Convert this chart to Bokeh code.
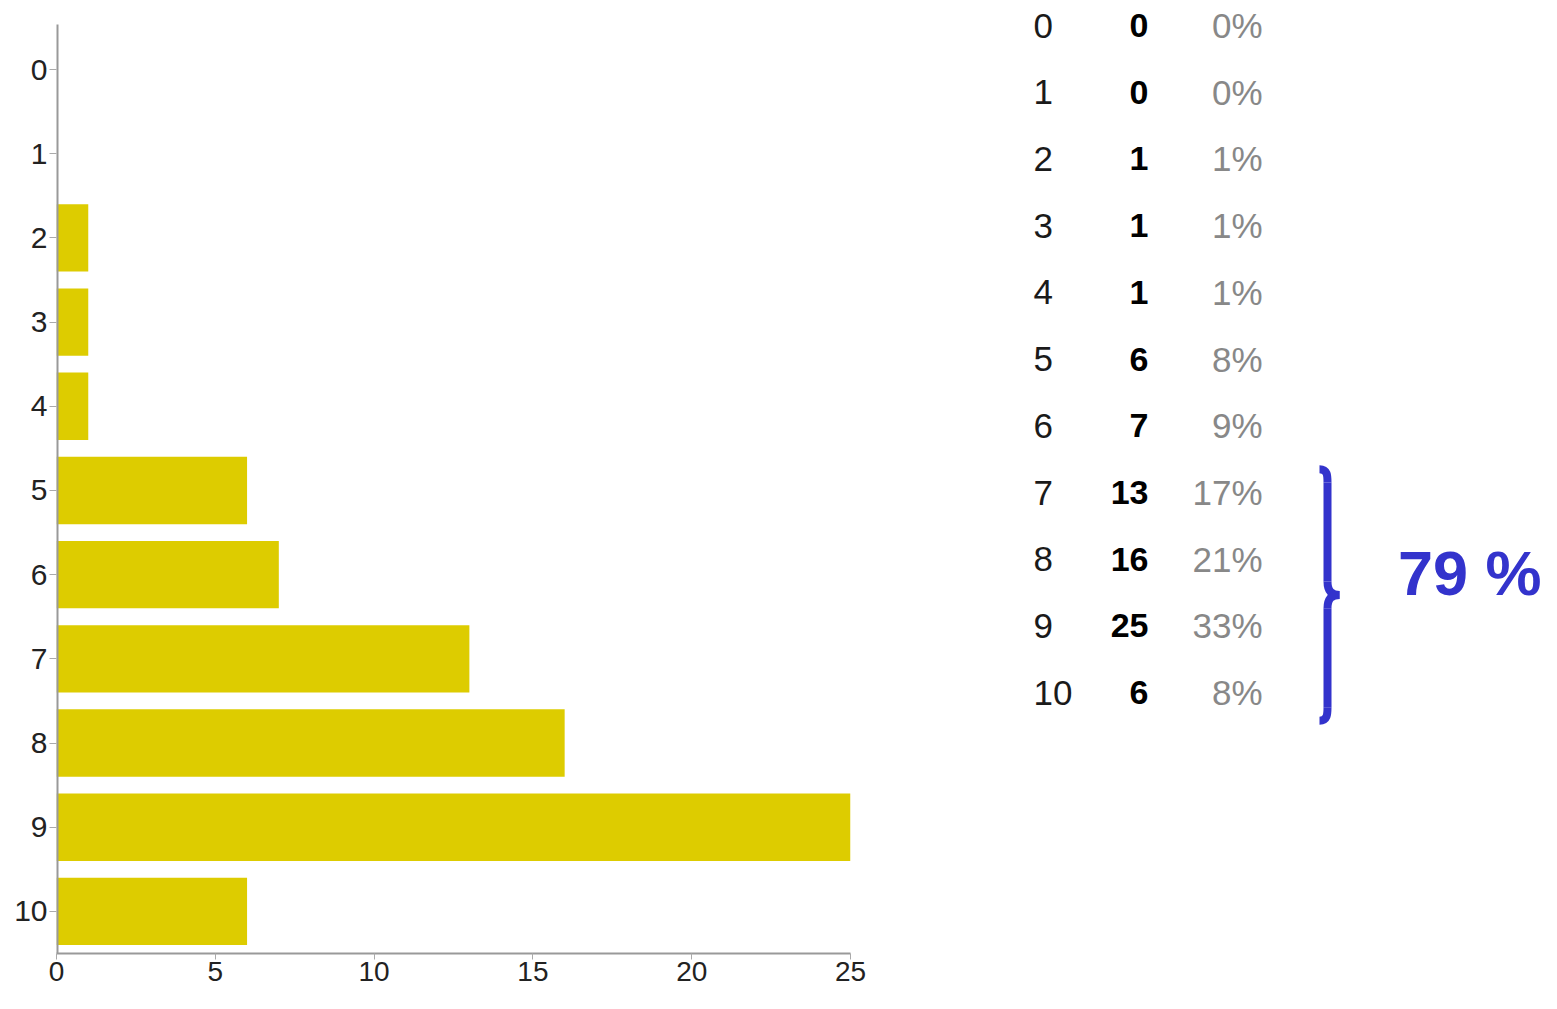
from bokeh.plotting import figure
from bokeh.models import Range1d, ColumnDataSource, FixedTicker
from bokeh.layouts import row
from bokeh.embed import file_html
from bokeh.resources import INLINE
from bokeh.core.properties import value

# ---- data ----
categories = ["0", "1", "2", "3", "4", "5", "6", "7", "8", "9", "10"]
counts = [0, 0, 1, 1, 1, 6, 7, 13, 16, 25, 6]
percents = ["0%", "0%", "1%", "1%", "1%", "8%", "9%", "17%", "21%", "33%", "8%"]
x_ticks = [0, 5, 10, 15, 20, 25]
highlight_rows = ["7", "8", "9", "10"]
highlight_label = "79 %"

BAR = "#DDCC00"
BLUE = "#3333CC"
FONT = "Liberation Sans"
rows_idx = list(range(len(categories)))

# ---- left: bar chart ----
left = figure(width=1008, height=993,
              x_range=Range1d(0, 25), y_range=Range1d(10.50, -0.82),
              output_backend="svg", toolbar_location=None,
              min_border_left=56, min_border_top=0, min_border_right=158,
              min_border_bottom=40)
left.hbar(y=rows_idx, right=counts, left=0, height=0.8,
          fill_color=BAR, line_color=None)
left.xgrid.visible = False
left.ygrid.visible = False
left.outline_line_color = None

for ax in (left.xaxis[0], left.yaxis[0]):
    ax.axis_line_color = "#999999"
    ax.axis_line_width = 2
    ax.major_tick_line_color = "#aaaaaa"
    ax.major_tick_in = 0
    ax.major_tick_out = 7
    ax.minor_tick_line_color = None
    ax.major_label_text_font = FONT
    ax.major_label_text_color = "#222222"
left.yaxis.axis_line_color = None
left.yaxis.ticker = FixedTicker(ticks=rows_idx)
left.yaxis.major_label_overrides = {i: c for i, c in zip(rows_idx, categories)}
left.yaxis.major_label_text_font_size = "30px"
left.xaxis.major_label_text_font_size = "28px"
left.yaxis.major_label_standoff = 2
left.xaxis.major_label_standoff = 2
left.xaxis.major_tick_out = 6
left.xaxis.ticker = x_ticks
# vertical axis line, starting a little above the first category
left.segment(x0=[0], y0=[rows_idx[0] - 0.535], x1=[0], y1=[rows_idx[-1] + 0.5],
             line_color="#999999", line_width=4)

# ---- right: table and brace ----
right = figure(width=533, height=993,
               x_range=Range1d(0, 533), y_range=Range1d(13.91, -0.375),
               output_backend="svg", toolbar_location=None, min_border=0)
right.axis.visible = False
right.grid.visible = False
right.outline_line_color = None

src = ColumnDataSource(dict(y=rows_idx, cat=categories,
                            cnt=[str(c) for c in counts], pct=percents))
col_x = [25, 140, 254]
right.text(x=col_x[0], y="y", text="cat", source=src, text_align="left",
           text_baseline="middle", text_font=value(FONT),
           text_font_size="35px", text_color="#1a1a1a")
right.text(x=col_x[1], y="y", text="cnt", source=src, text_align="right",
           text_baseline="middle", text_font=value(FONT),
           text_font_size="34px", text_font_style="bold", text_color="#000000")
right.text(x=col_x[2], y="y", text="pct", source=src, text_align="right",
           text_baseline="middle", text_font=value(FONT),
           text_font_size="35px", text_color="#888888")

# brace spanning highlighted rows
r0 = categories.index(highlight_rows[0])
r1 = categories.index(highlight_rows[-1])
top = r0 - 0.35
bot = r1 + 0.42
mid = (top + bot) / 2
bx_end, bx_body, bx_tip = 311, 319, 331
hook = 0.2
LW = 8
right.bezier(x0=[bx_end], y0=[top], x1=[bx_body], y1=[top + hook],
             cx0=[bx_body], cy0=[top], cx1=[bx_body], cy1=[top + hook * 0.5],
             line_color=BLUE, line_width=LW)
right.segment(x0=[bx_body], y0=[top + hook], x1=[bx_body], y1=[mid - hook],
              line_color=BLUE, line_width=LW)
right.bezier(x0=[bx_body], y0=[mid - hook], x1=[bx_tip], y1=[mid],
             cx0=[bx_body], cy0=[mid - hook * 0.3], cx1=[bx_body + 4], cy1=[mid],
             line_color=BLUE, line_width=LW)
right.bezier(x0=[bx_tip], y0=[mid], x1=[bx_body], y1=[mid + hook],
             cx0=[bx_body + 4], cy0=[mid], cx1=[bx_body], cy1=[mid + hook * 0.3],
             line_color=BLUE, line_width=LW)
right.segment(x0=[bx_body], y0=[mid + hook], x1=[bx_body], y1=[bot - hook],
              line_color=BLUE, line_width=LW)
right.bezier(x0=[bx_body], y0=[bot - hook], x1=[bx_end], y1=[bot],
             cx0=[bx_body], cy0=[bot - hook * 0.5], cx1=[bx_body], cy1=[bot],
             line_color=BLUE, line_width=LW)

right.text(x=[533], y=[mid - 0.33], text=[highlight_label], text_align="right",
           text_baseline="middle", text_font=value(FONT),
           text_font_size="63px", text_font_style="bold", text_color=BLUE)

p = row(left, right)
open("out.html", "w").write(file_html(p, INLINE))
